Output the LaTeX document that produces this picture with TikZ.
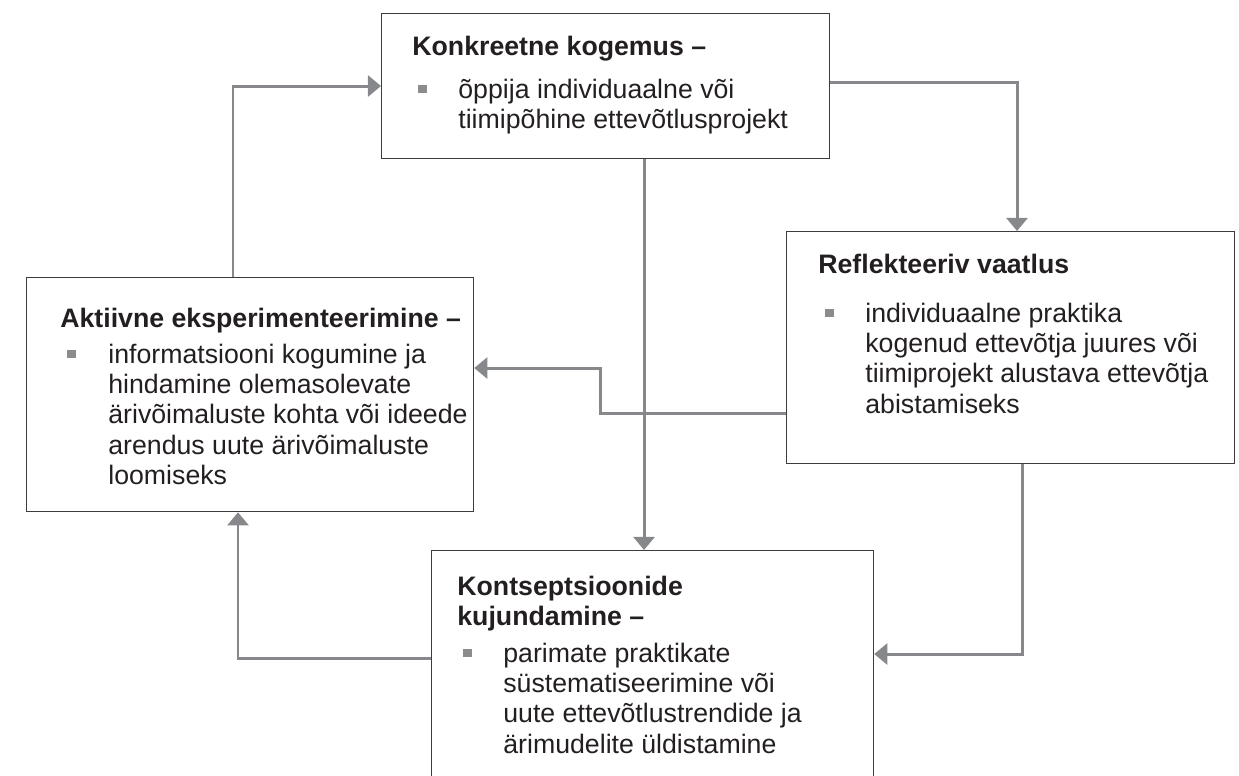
\documentclass[tikz,border=0pt]{standalone}
\usepackage{fontspec}
\setmainfont{Liberation Sans}
\usetikzlibrary{arrows.meta}
\definecolor{linegray}{RGB}{135,136,140}
\definecolor{boxgray}{RGB}{60,60,60}
\definecolor{textblack}{RGB}{35,31,32}
\definecolor{bulletgray}{RGB}{140,140,140}
\tikzset{
	box/.style={draw=boxgray,line width=0.75pt,rectangle,anchor=north west,inner sep=0pt},
	flow/.style={draw=linegray,line width=1.7pt,-{Triangle[length=7.5pt,width=12pt]}},
	heading/.style={anchor=base west,inner sep=0pt,text=textblack,align=left,
		font=\fontsize{15.2}{17.3}\selectfont\bfseries},
	itemtext/.style={anchor=base west,inner sep=0pt,text=textblack,align=left,
		font=\fontsize{15.2}{17.3}\selectfont},
	bullet/.style={fill=bulletgray,minimum size=5.1pt,inner sep=0pt}
}

\begin{document}
\begin{tikzpicture}[x=0.02cm,y=-0.02cm]
\clip (0,0) rectangle (1239,775);
%Kastid
\node[box,minimum width=8.96cm,minimum height=2.9cm] (top) at (381,13) {};
\node[box,minimum width=8.96cm,minimum height=4.64cm] (refl) at (786,231) {};
\node[box,minimum width=8.94cm,minimum height=4.68cm] (akt) at (26,277) {};
\node[box,minimum width=8.84cm,minimum height=5.6cm] (konz) at (431,550) {};
%Tekstid (ankur = viimase rea alusjoon)
\node[heading] (topH) at (412,55) {Konkreetne kogemus –};
\node[bullet] (topB) at (422.5,89) {};
\node[itemtext] (topT) at (458,128.4) {õppija individuaalne või\\tiimipõhine ettevõtlusprojekt};
\node[heading] (reflH) at (818,273) {Reflekteeriv vaatlus};
\node[bullet] (reflB) at (829.5,313) {};
\node[itemtext] (reflT) at (865,413.2) {individuaalne praktika\\kogenud ettevõtja juures või\\tiimiprojekt alustava ettevõtja\\abistamiseks};
\node[heading] (aktH) at (60,327) {Aktiivne eksperimenteerimine –};
\node[bullet] (aktB) at (71.5,354) {};
\node[itemtext] (aktT) at (108,484.6) {informatsiooni kogumine ja\\hindamine olemasolevate\\ärivõimaluste kohta või ideede\\arendus uute ärivõimaluste\\loomiseks};
\node[heading] (konzH) at (457,625.4) {Kontseptsioonide\\kujundamine –};
\node[bullet] (konzB) at (467.5,653) {};
\node[itemtext] (konzT) at (503,753.2) {parimate praktikate\\süstematiseerimine või\\uute ettevõtlustrendide ja\\ärimudelite üldistamine};
%Nooled
\coordinate (jog) at (600,390);
\draw[flow] (top.east |- 0,82) -| (refl.north -| 1017,0);
\draw[flow] (top.south -| 644,0) -- (konz.north -| 644,0);
\draw[flow] (refl.south -| 1022,0) |- (konz.east |- 0,654);
\draw[flow] (konz.west |- 0,658) -| (akt.south -| 238,0);
\draw[flow] (akt.north -| 233,0) |- (top.west |- 0,86);
\draw[flow] (refl.west |- 0,413) -| (jog) |- (akt.east |- 0,368);
\end{tikzpicture}
\end{document}
